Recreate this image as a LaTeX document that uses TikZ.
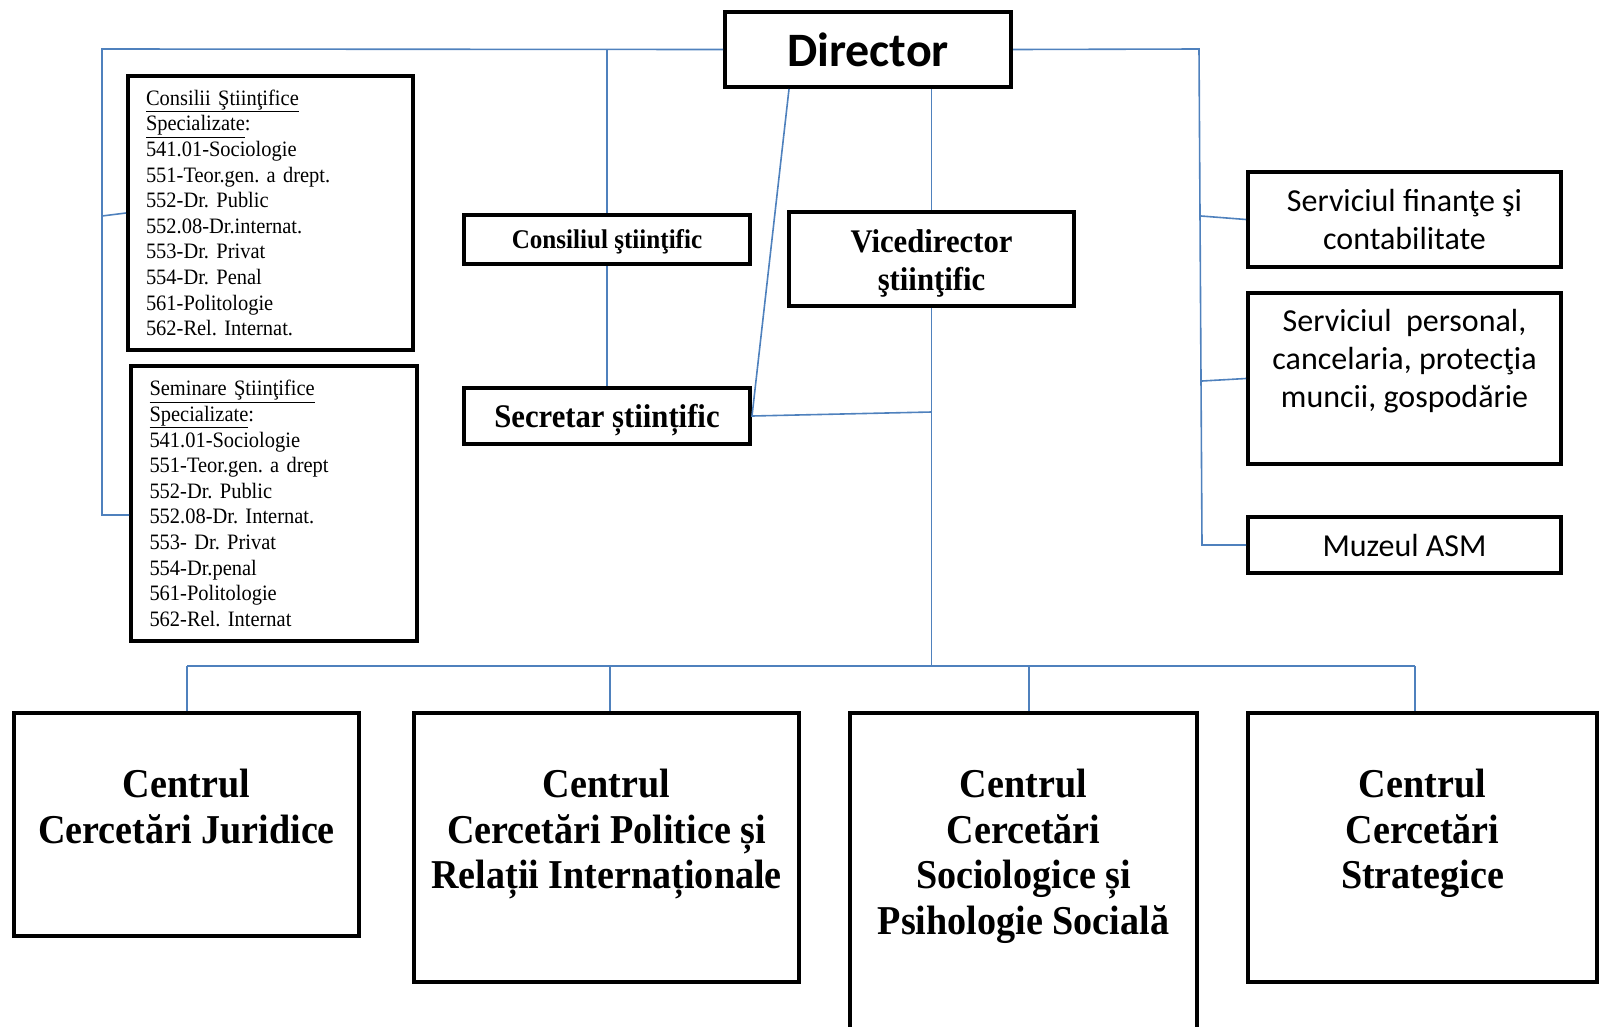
\documentclass[tikz,border=0pt]{standalone}
\usepackage{fontspec}
\setmainfont[FakeStretch=0.93]{Liberation Serif}
\newfontfamily\calibri{Carlito}
\definecolor{albastru}{RGB}{79,129,189}
\frenchspacing

\begin{document}
\begin{tikzpicture}[x=1pt,y=-1pt,
		cutie/.style={draw,line width=4pt,inner sep=0pt,align=center},
		linie/.style={draw=albastru,line width=1.6pt},
		lista/.style={align=left,text width=249pt,inner xsep=18pt,inner ysep=0pt,font=\frenchspacing\fontsize{22}{25.6}\selectfont},
		serv/.style={align=center,inner sep=0pt,font=\calibri\fontsize{32}{38}\selectfont},
		centru/.style={align=center,inner sep=0pt,anchor=north,font=\bfseries\fontsize{41}{45.5}\selectfont}]
		
		\useasboundingbox (0,0) rectangle (1604,1026);
		
		\node[cutie,minimum width=286pt,minimum height=75pt,font=\calibri\bfseries\fontsize{48}{58}\selectfont] (director) at (868,49.5) {Director};
		
		\node[cutie,lista,minimum width=285pt,minimum height=274pt] (consilii) at (270.5,213) {\underline{Consilii Ştiinţifice}\\\underline{Specializate}:\\541.01-Sociologie\\551-Teor.gen. a drept.\\552-Dr. Public\\552.08-Dr.internat.\\553-Dr. Privat\\554-Dr. Penal\\561-Politologie\\562-Rel. Internat.};
		\node[cutie,lista,minimum width=286pt,minimum height=275pt] (seminare) at (274,503.5) {\underline{Seminare Ştiinţifice}\\\underline{Specializate}:\\541.01-Sociologie\\551-Teor.gen. a drept\\552-Dr. Public\\552.08-Dr. Internat.\\553- Dr. Privat\\554-Dr.penal\\561-Politologie\\562-Rel. Internat};
		
		\node[cutie,minimum width=286pt,minimum height=49pt,text height=24.5pt,font=\bfseries\fontsize{27}{31}\selectfont] (consiliul) at (607,239.5) {Consiliul ştiinţific};
		\node[cutie,minimum width=286pt,minimum height=56pt,text height=32pt,font=\bfseries\fontsize{33}{38}\selectfont] (secretar) at (607,416) {Secretar științific};
		\node[cutie,minimum width=285pt,minimum height=94pt,text height=69pt,font=\bfseries\fontsize{33}{38}\selectfont] (vice) at (931.5,259) {Vicedirector\\ştiinţific};
		
		\node[cutie,serv,minimum width=313pt,minimum height=95pt] (fin) at (1404.5,219.5) {Serviciul finanţe şi\\contabilitate};
		\node[cutie,minimum width=313pt,minimum height=171pt] (pers) at (1404.5,378.5) {};
		\node[serv] (tpers) at (1404.5,361.5) {Serviciul\ \ personal,\\cancelaria, protecţia\\muncii, gospodărie};
		\node[cutie,serv,minimum width=313pt,minimum height=56pt] (muz) at (1404.5,545) {Muzeul ASM};
		
		\node[cutie,minimum width=345pt,minimum height=223pt] (cjur) at (186.5,824.5) {};
		\node[cutie,minimum width=385pt,minimum height=269pt] (cpol) at (606.5,847.5) {};
		\node[cutie,minimum width=347pt,minimum height=318pt] (csoc) at (1023.5,872) {};
		\node[cutie,minimum width=349pt,minimum height=269pt] (cstr) at (1422.5,847.5) {};
		\node[centru] (tjur) at (186.5,769) {Centrul\\Cercetări Juridice};
		\node[centru] (tpol) at (606.5,769) {Centrul\\Cercetări Politice și\\Relații Internaționale};
		\node[centru] (tsoc) at (1023.5,769) {Centrul\\Cercetări\\Sociologice și\\Psihologie Socială};
		\node[centru] (tstr) at (1422.5,769) {Centrul\\Cercetări\\Strategice};
		
		\coordinate (cl) at (102,49);
		\coordinate (cm) at (102,216);
		\coordinate (cb) at (102,515);
		\coordinate (ct) at (607,49);
		\coordinate (vs) at (931.5,412);
		\coordinate (hub) at (931.5,666);
		\coordinate (hl) at (187,666);
		\coordinate (hr) at (1415,666);
		\coordinate (cr) at (1199,49);
		\coordinate (cr1) at (1201,216);
		\coordinate (cr2) at (1202,381);
		\coordinate (crb) at (1202,545);
		
		\draw[linie] (director.west) -- (cl) -- (cb) -- (seminare.west |- cb);
		\draw[linie] (cm) -- (consilii.west);
		\draw[linie] (ct) -- (consiliul.north);
		\draw[linie] (consiliul.south) -- (secretar.north);
		\draw[linie] ([xshift=-79pt]director.south) -- (secretar.east) -- (vs);
		\draw[linie] ([xshift=63.5pt]director.south) -- (vice.north);
		\draw[linie] (vice.south) -- (hub);
		\draw[linie] (hl) -- (hr);
		\foreach \c/\d in {cjur/0.5,cpol/3.5,csoc/5.5,cstr/-7.5}
			\draw[linie] ([xshift=\d pt]\c.north) -- ++(0,-45);
		\draw[linie] (director.east) -- (cr) -- (crb) -- (muz.west);
		\draw[linie] (cr1) -- (fin.west);
		\draw[linie] (cr2) -- (pers.west);
		
	\end{tikzpicture}
\end{document}
